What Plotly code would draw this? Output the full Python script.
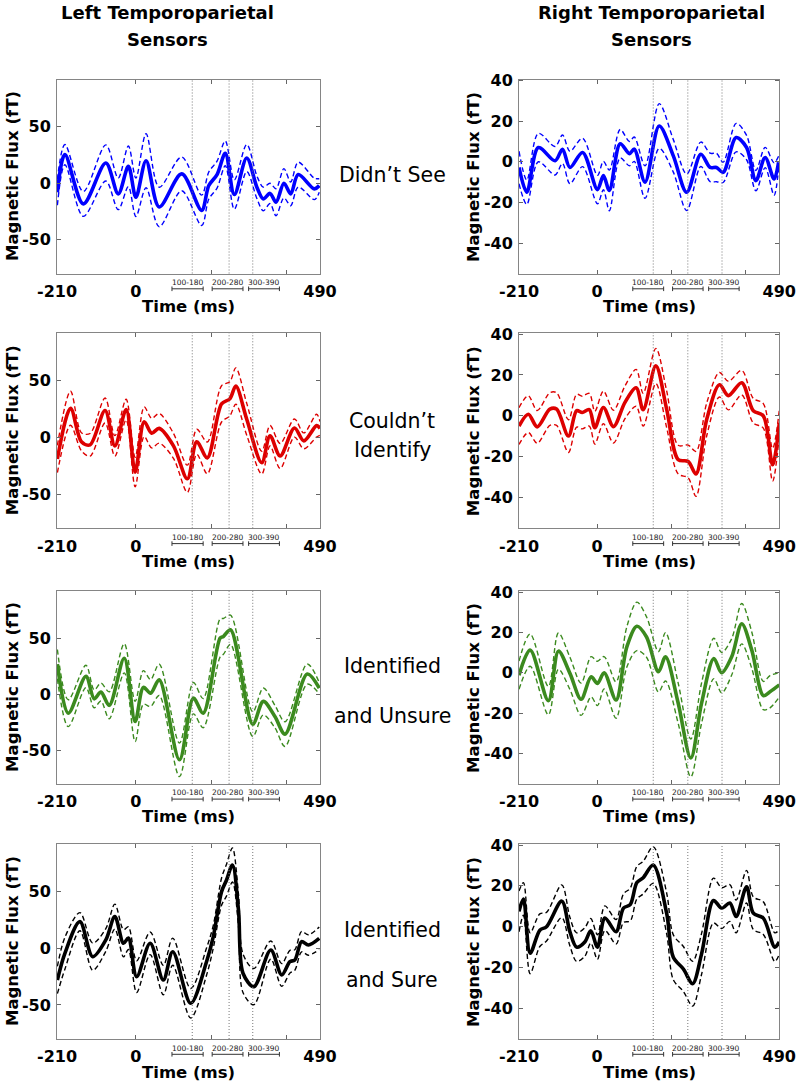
import plotly.graph_objects as go

# ---------------- data (time in ms, magnetic flux in fT) ----------------
# Left temporoparietal sensors
l1_t = [-209, -189, -140, -80, -47, -20, 0, 27, 62, 122, 175, 194, 216, 238, 262, 295, 322, 339, 357, 373, 394, 412, 432, 475, 488]
l1_m = [-8, 25.4, -18.3, 18, -9.4, 15, -12.4, 20, -21, 8.3, -24, -2, 7.7, 26.5, -10, 22.4, -3.5, -13.9, -9, -16.8, 0, -9.4, 7.7, -5, -2]
l1_e = [11.5, 9, 11, 16, 14, 18, 17, 24, 17.5, 15, 13.5, 12, 12, 11, 13, 12, 10, 10.5, 9, 12, 13, 10.5, 11, 9.5, 6]

l2_t = [-209, -174, -145, -122, -82, -56, -26, -2, 22, 42, 62, 100, 137, 162, 190, 228, 250, 266, 295, 335, 357, 384, 422, 447, 481, 490]
l2_m = [-19, 25.7, -3.8, -6.5, 23.7, -7.4, 24.6, -30.5, 13.9, 3.8, 8, -7.4, -36.4, -3.8, -18, 29.6, 34, 45.3, 16, -22.2, 1.5, -16.3, 8.3, -3, 10.4, 8]
l2_e = [12, 15, 8, 10, 11, 9, 9, 13, 13, 13, 13, 11, 12, 11, 14, 16, 15, 16, 14, 10, 9, 11, 8, 7, 10, 6]

l3_t = [-209, -180, -133, -111, -93, -71, -31, -2, 20, 39, 62, 116, 153, 179, 224, 233, 252, 311, 339, 370, 397, 456, 488]
l3_m = [26.8, -17, 15.8, -4.2, 1.8, -10, 32, -24.4, 6, 0.9, 12.8, -58.6, -3.6, -17, 50, 51.5, 57.4, -26.8, -6.5, -20, -35.7, 17.9, 5.4]
l3_e = [13, 12, 10, 8, 8, 12, 13, 18, 15, 12, 14, 15, 14, 13, 17, 16, 13, 11, 12, 10, 11, 9, 5]

l4_t = [-209, -189, -149, -115, -80, -56, -33, -20, 2, 38, 73, 98, 146, 188, 206, 228, 241, 257, 273, 285, 314, 359, 388, 410, 423, 441, 459, 488]
l4_m = [-28, -4.4, 23.5, -7.4, 7.4, 28, 4.4, 9, -25, 4.4, -28, -3, -48.5, -11.8, 10.3, 50, 60, 73.5, 33.8, -22, -33.8, -1.5, -23.5, -11.8, -10.3, 5.9, 2.9, 8.8]
l4_e = [12, 14, 8, 12, 10, 11, 12, 10, 14, 10, 13, 12, 13, 12, 10, 12, 14, 15, 14, 17, 16, 8, 10, 10, 9, 9, 9, 10]

# Right temporoparietal sensors
r1_t = [-210, -189, -158, -113, -93, -73, -39, 1, 17, 33, 62, 87, 100, 129, 167, 205, 241, 279, 304, 321, 339, 374, 402, 427, 452, 476, 488]
r1_m = [-2.8, -15, 7, 0.5, 6.2, -2.8, 4.6, -13.7, -6.8, -14.1, 8.9, 4, 6.2, -10, 17.6, 2.9, -15, 3.7, -2.8, -2.8, -5.2, 11.9, 7, -9.3, 2.1, -8.5, -0.3]
r1_e = [8, 6, 7, 7, 7, 8, 7, 7, 7, 10, 7, 6, 6, 8, 11, 8, 9, 6, 7, 7, 5, 7, 6, 5, 5, 8, 3]

r2_t = [-210, -185, -161, -127, -109, -77, -55, -40, -21, -6, 17, 44, 75, 105, 124, 158, 187, 218, 245, 266, 295, 329, 353, 389, 420, 447, 472, 490]
r2_m = [-5, 0.8, -5.4, 3.3, 3.3, -9.9, 2.5, 1.6, 3, -5.8, 4.1, -5.3, 6.6, 13.7, 3, 24.4, 3.3, -21.4, -22.3, -28.4, -1.6, 15.2, 9.9, 16.2, 2.5, 0, -23.9, -3.3]
r2_e = [9, 9, 8, 8, 8, 8, 8, 8, 8, 8, 8, 8, 8, 9, 8, 8.6, 9, 7, 8, 11, 8, 6, 7, 6, 6, 6, 8, 6]

r3_t = [-210, -180, -131, -104, -73, -43, -16, 1, 19, 51, 80, 107, 133, 165, 184, 218, 252, 281, 314, 335, 362, 389, 416, 447, 465, 490]
r3_m = [-1.2, 11.2, -13.8, 10.7, -0.3, -13.1, -2, -5.3, 0, -13.5, 12.8, 23, 17.7, 0.5, 7.9, -15, -42.2, -15, 7.1, 0, 7.9, 24.3, 11.2, -11.3, -9.4, -6]
r3_e = [7, 8, 7, 9, 8, 8, 10, 11, 8, 9, 10, 12, 10, 10, 12, 10, 9.4, 10, 10, 10, 9, 10, 9, 7, 8, 6]

r4_t = [-210, -198, -180, -154, -136, -95, -73, -55, -33, -17, 1, 21, 51, 71, 89, 107, 124, 151, 187, 205, 232, 257, 281, 313, 335, 357, 374, 402, 420, 447, 478, 490]
r4_m = [7.5, 13.6, -13, -1.7, 0, 12.5, -2.5, -10, -7.5, -2, -10, 4.2, -2.5, 9.1, 10.8, 21.6, 24, 30.2, 6.6, -15, -20.7, -27.9, -13.3, 12.8, 9.1, 11.6, 5, 19.6, 6.6, 4.2, -10, -7.5]
r4_e = [10, 8, 10, 8, 7, 8, 7, 7, 7, 6, 6, 6, 6, 7, 8, 8, 8, 9, 10, 11, 11, 11, 10, 11, 10, 9, 8, 8, 8, 8, 7, 6]

row_labels = [["Didn\u2019t See"], ["Couldn\u2019t", "Identify"], ["Identified", "and Unsure"], ["Identified", "and Sure"]]
col_titles = [["Left Temporoparietal", "Sensors"], ["Right Temporoparietal", "Sensors"]]
row_colors = ["#0000ff", "#dd0000", "#3b8a1e", "#000000"]
x_range = [-210, 490]
x_tickvals = [-210, 0, 200, 400, 490]
x_ticktext = ["-210", "0", "", "", "490"]
left_yrange = [-80, 92]
left_yticks = [-50, 0, 50]
right_yrange = [-55, 40.5]
right_yticks = [-40, -20, 0, 20, 40]
left_markers = [150, 248, 311]
right_markers = [151, 244, 336]
windows = [(96, 179, "100-180"), (203, 285, "200-280"), (300, 382, "300-390")]

panels = [
    (l1_t, l1_m, l1_e), (r1_t, r1_m, r1_e),
    (l2_t, l2_m, l2_e), (r2_t, r2_m, r2_e),
    (l3_t, l3_m, l3_e), (r3_t, r3_m, r3_e),
    (l4_t, l4_m, l4_e), (r4_t, r4_m, r4_e),
]

# ---------------- layout geometry (pixels) ----------------
W, H = 799, 1088
col_px = [(57, 320), (519, 779.3)]
row_px = [(79.5, 273.5), (333, 528.3), (591, 783.8), (844, 1039)]

def px(x):
    return x / W

def py(y):
    return 1 - y / H

FONT = "DejaVu Sans"
fig = go.Figure()
layout = dict(
    width=W, height=H, margin=dict(l=0, r=0, t=0, b=0, autoexpand=False),
    paper_bgcolor="white", plot_bgcolor="white", showlegend=False,
    font=dict(family=FONT, color="black"),
)
shapes = []
annotations = []

for i, (t, m, e) in enumerate(panels):
    r, c = divmod(i, 2)
    k = i + 1
    xa = "x" if k == 1 else f"x{k}"
    ya = "y" if k == 1 else f"y{k}"
    color = row_colors[r]
    upper = [a + b for a, b in zip(m, e)]
    lower = [a - b for a, b in zip(m, e)]
    for series, width, dash in ((upper, 1.4, "5px,3px"), (lower, 1.4, "5px,3px"), (m, 3.6, "solid")):
        fig.add_trace(go.Scatter(
            x=t, y=series, xaxis=xa, yaxis=ya, mode="lines",
            line=dict(color=color, width=width, dash=dash, shape="spline", smoothing=0.9),
            hoverinfo="skip",
        ))
    x0, x1 = col_px[c]
    top, bot = row_px[r]
    common = dict(showline=True, linecolor="#858585", linewidth=1, mirror="ticks",
                  ticks="inside", ticklen=4, tickcolor="#666", tickwidth=1,
                  showgrid=False, zeroline=False, automargin=False,
                  tickfont=dict(family=FONT, size=16, color="black", weight="bold"))
    layout["xaxis" if k == 1 else f"xaxis{k}"] = dict(
        domain=[px(x0), px(x1)], anchor=ya, range=x_range,
        tickvals=x_tickvals, ticktext=x_ticktext, ticklabelstandoff=3, **common)
    yr, yt = (left_yrange, left_yticks) if c == 0 else (right_yrange, right_yticks)
    layout["yaxis" if k == 1 else f"yaxis{k}"] = dict(
        domain=[py(bot), py(top)], anchor=xa, range=yr,
        tickvals=yt, ticktext=[str(v) for v in yt], ticklabelstandoff=2, **common)

    # dotted markers
    for xv in (left_markers if c == 0 else right_markers):
        shapes.append(dict(type="line", xref=xa, yref=f"{ya} domain", x0=xv, x1=xv, y0=0, y1=1,
                           line=dict(color="#777", width=1, dash="1px,2px")))
    # analysis windows below the axis
    yb = py(bot + 15.3)
    for a, b, lab in windows:
        shapes.append(dict(type="line", xref=xa, yref="paper", x0=a, x1=b, y0=yb, y1=yb,
                           line=dict(color="#333", width=1)))
        for xv in (a, b):
            shapes.append(dict(type="line", xref=xa, yref="paper", x0=xv, x1=xv,
                               y0=py(bot + 13), y1=py(bot + 17.6), line=dict(color="#333", width=1)))
        annotations.append(dict(x=(a + b) / 2, y=py(bot + 9), xref=xa, yref="paper", text=lab,
                                showarrow=False, xanchor="center", yanchor="middle",
                                font=dict(family=FONT, size=7.5, color="#222")))
    # axis titles
    annotations.append(dict(x=px((x0 + x1) / 2), y=py(bot + 33), xref="paper", yref="paper",
                            text="Time (ms)", showarrow=False, xanchor="center", yanchor="middle",
                            font=dict(family=FONT, size=16.5, color="black", weight="bold")))
    annotations.append(dict(x=px(12.5 if c == 0 else 473.5), y=py((top + bot) / 2), xref="paper", yref="paper",
                            text="Magnetic Flux (fT)", textangle=-90, showarrow=False,
                            xanchor="center", yanchor="middle",
                            font=dict(family=FONT, size=16.5, color="black", weight="bold")))

# column titles
for cx, lines in zip((167, 651), col_titles):
    for ly, txt in zip((12.5, 40), lines):
        annotations.append(dict(x=px(cx), y=py(ly), xref="paper", yref="paper", text=txt,
                                showarrow=False, xanchor="center", yanchor="middle",
                                font=dict(family=FONT, size=18, color="black", weight="bold")))

# row labels
row_label_y = [[175], [421, 450], [666, 716], [930, 980]]
for labels, ys in zip(row_labels, row_label_y):
    for txt, ly in zip(labels, ys):
        annotations.append(dict(x=px(392), y=py(ly), xref="paper", yref="paper", text=txt,
                                showarrow=False, xanchor="center", yanchor="middle",
                                font=dict(family=FONT, size=20.5, color="black")))

layout["shapes"] = shapes
layout["annotations"] = annotations
fig.update_layout(**layout)
fig.write_html(
    "out.html",
    config={"displayModeBar": False, "staticPlot": True},
    post_script="document.body.style.margin='0px';document.body.style.padding='0px';document.body.style.overflow='hidden';",
)
